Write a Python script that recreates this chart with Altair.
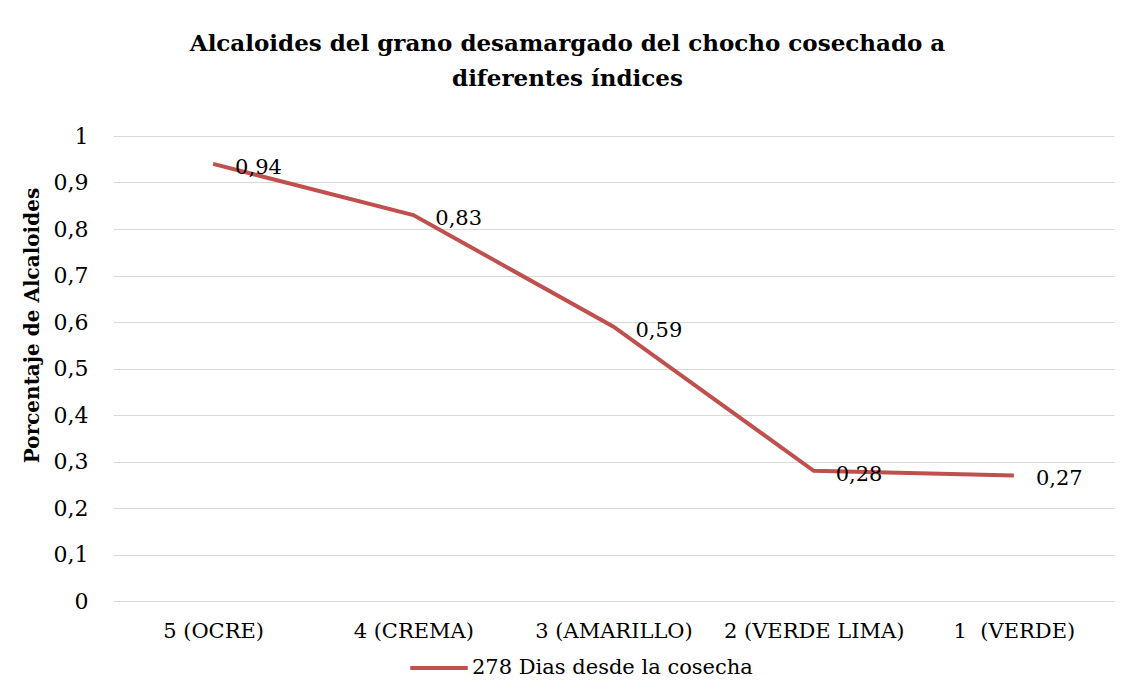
import altair as alt
import pandas as pd

categories = ["5 (OCRE)", "4 (CREMA)", "3 (AMARILLO)", "2 (VERDE LIMA)", "1\u00a0 (VERDE)"]
values = [0.94, 0.83, 0.59, 0.28, 0.27]
series_name = "278 Dias desde la cosecha"
y_ticks = [0, 0.1, 0.2, 0.3, 0.4, 0.5, 0.6, 0.7, 0.8, 0.9, 1]

df = pd.DataFrame({"cat": categories, "val": values, "serie": [series_name] * len(values)})
df["lab"] = [f"{v:.2f}".replace(".", ",") for v in values]

FONT = "DejaVu Serif"
RED = "#C0504D"

x_enc = alt.X("cat:N", sort=categories, title=None,
              scale=alt.Scale(paddingInner=0, paddingOuter=0.5),
              axis=alt.Axis(labelFont=FONT, labelFontSize=21, labelColor="#000000",
                            labelAngle=0, labelPadding=19, domain=False, ticks=False,
                            grid=False, labelLimit=300))
y_enc = alt.Y("val:Q", scale=alt.Scale(domain=[0, 1], nice=False),
              title="Porcentaje de Alcaloides",
              axis=alt.Axis(values=y_ticks, labelFont=FONT, labelFontSize=22,
                            labelColor="#000000", labelPadding=25,
                            labelExpr="replace(format(datum.value, '.1~f'), '.', ',')",
                            domain=False, ticks=False, grid=True, gridColor="#D9D9D9",
                            gridWidth=1, titleFont=FONT, titleFontSize=20,
                            titleFontWeight="bold", titleColor="#000000",
                            titleX=-81, titleY=189, titleAngle=270,
                            titleBaseline="middle", titleAlign="center"))

line = alt.Chart(df).mark_line(strokeWidth=4, color=RED).encode(
    x=x_enc, y=y_enc,
    color=alt.Color("serie:N", scale=alt.Scale(range=[RED]),
                    legend=alt.Legend(title=None, orient="none", legendX=295, legendY=501,
                                      symbolType="stroke", symbolSize=3300,
                                      symbolStrokeWidth=4, labelFont=FONT,
                                      labelFontSize=21, labelColor="#000000",
                                      labelOffset=2, labelLimit=500)),
)

labels = alt.Chart(df).mark_text(align="left", baseline="middle", dx=22, dy=4,
                                 font=FONT, fontSize=21, color="#000000").encode(
    x=alt.X("cat:N", sort=categories), y="val:Q", text="lab:N")

chart = alt.layer(line, labels).properties(
    width=1001, height=465,
    autosize=alt.AutoSizeParams(type="none"),
    padding={"left": 105, "top": 128, "right": 12, "bottom": 86},
    title=alt.TitleParams(
        text=["Alcaloides del grano desamargado del chocho cosechado a", "diferentes índices"],
        font=FONT, fontSize=23, fontWeight="bold", color="#000000",
        anchor="middle", dx=-46, offset=34, lineHeight=35),
).configure_view(stroke=None)

chart.save("out.html", embed_options={"renderer": "svg", "actions": False})
